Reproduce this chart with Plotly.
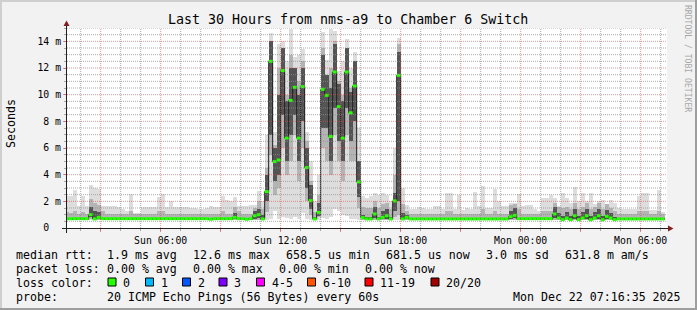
import plotly.graph_objects as go

# ---------------- data (12-minute bins, minutes since Sun 00:00) ----------------
BIN = 12
START = 72
X_RANGE = [79, 1879]

median = [
    0.70, 0.70, 0.70, 0.70, 0.70, 0.70, 1.00, 0.68, 0.80, 0.70, 0.70, 0.70, 0.70, 0.70, 0.70,
    0.70, 0.70, 0.70, 0.70, 0.70, 0.70, 0.70, 0.70, 0.70, 0.70, 0.70, 0.70, 0.70, 0.70, 0.70,
    0.70, 0.70, 0.70, 0.70, 0.70, 0.70, 0.66, 0.70, 0.70, 0.70, 0.70, 0.70, 0.80, 0.70, 0.70,
    0.66, 0.70, 0.92, 1.00, 0.68, 2.73, 12.50, 4.98, 5.10, 11.80, 6.74, 9.57, 10.55, 6.74, 10.60,
    4.53, 2.05, 0.68, 1.17, 10.40, 9.95, 6.86, 11.70, 9.10, 6.74, 11.70, 8.64, 10.65, 3.46, 0.78,
    0.68, 0.68, 1.05, 0.68, 0.80, 0.92, 0.68, 2.03, 11.45, 0.68, 0.80, 0.68, 0.68, 0.68, 0.68,
    0.68, 0.68, 0.68, 0.68, 0.68, 0.68, 0.68, 0.68, 0.68, 0.68, 0.68, 0.68, 0.68, 0.68, 0.68,
    0.68, 0.68, 0.68, 0.68, 0.68, 0.68, 0.85, 0.95, 0.70, 0.70, 0.70, 0.70, 0.70, 0.70, 0.70,
    0.70, 0.70, 1.05, 0.75, 0.62, 0.75, 0.62, 0.92, 0.62, 0.75, 0.92, 0.62, 0.75, 0.92, 0.62,
    0.87, 0.75, 0.62, 0.68, 0.68, 0.68, 0.68, 0.68, 0.68, 0.68, 0.68, 0.68, 0.68, 0.68, 0.68,
]

smoke_max = [
    2.38, 2.38, 2.88, 1.68, 2.38, 1.68, 3.20, 3.00, 2.95, 1.68, 1.68, 1.62, 1.62, 1.55, 1.45,
    1.30, 2.58, 1.10, 1.10, 1.60, 1.55, 1.55, 1.55, 2.33, 2.58, 1.60, 2.00, 1.60, 1.60, 1.55,
    1.55, 1.50, 1.50, 1.45, 1.40, 1.50, 1.68, 1.55, 1.55, 2.38, 2.10, 2.00, 2.30, 1.65, 1.62,
    1.62, 1.70, 1.75, 2.75, 2.00, 7.00, 14.60, 7.20, 13.80, 14.00, 12.50, 14.90, 12.80, 13.00, 13.40,
    7.20, 5.00, 2.00, 4.00, 14.70, 12.60, 14.90, 14.80, 11.80, 12.50, 14.20, 12.00, 13.20, 7.50, 2.40,
    2.25, 2.40, 2.60, 2.50, 2.60, 2.50, 2.00, 6.00, 14.25, 3.00, 1.75, 1.40, 1.40, 1.60, 1.50,
    1.43, 1.43, 1.63, 1.63, 1.43, 2.63, 2.63, 1.43, 2.50, 1.38, 1.50, 1.43, 2.68, 1.68, 3.18,
    1.50, 1.50, 2.95, 2.05, 1.63, 1.68, 1.88, 1.88, 2.58, 1.63, 1.75, 1.75, 1.43, 1.30, 2.25,
    2.25, 2.45, 2.25, 1.68, 2.63, 2.25, 1.88, 3.08, 2.00, 2.63, 2.00, 2.63, 1.83, 2.00, 2.13,
    1.83, 2.08, 1.88, 1.50, 1.43, 1.43, 1.43, 1.43, 2.43, 2.63, 2.63, 1.33, 1.33, 2.83, 1.18,
]

smoke_min = [
    0.60, 0.60, 0.60, 0.60, 0.60, 0.60, 0.60, 0.60, 0.60, 0.60, 0.60, 0.60, 0.60, 0.60, 0.60,
    0.60, 0.60, 0.60, 0.60, 0.60, 0.60, 0.60, 0.60, 0.60, 0.60, 0.60, 0.60, 0.60, 0.60, 0.60,
    0.60, 0.60, 0.60, 0.60, 0.60, 0.60, 0.60, 0.60, 0.60, 0.60, 0.60, 0.60, 0.60, 0.60, 0.60,
    0.60, 0.60, 0.60, 0.60, 0.60, 0.62, 0.65, 1.25, 0.70, 0.80, 0.75, 0.65, 0.80, 0.70, 1.15,
    0.65, 0.62, 0.60, 0.62, 0.75, 0.65, 0.80, 1.40, 1.30, 1.00, 0.90, 0.70, 0.65, 0.62, 0.60,
    0.60, 0.60, 0.60, 0.60, 0.60, 0.60, 0.60, 0.60, 0.62, 0.60, 0.60, 0.60, 0.60, 0.60, 0.60,
    0.60, 0.60, 0.60, 0.60, 0.60, 0.60, 0.60, 0.60, 0.60, 0.60, 0.60, 0.60, 0.60, 0.60, 0.60,
    0.60, 0.60, 0.60, 0.60, 0.60, 0.60, 0.60, 0.60, 0.60, 0.60, 0.60, 0.60, 0.60, 0.60, 0.60,
    0.60, 0.60, 0.60, 0.60, 0.60, 0.60, 0.60, 0.60, 0.60, 0.60, 0.60, 0.60, 0.60, 0.60, 0.60,
    0.60, 0.60, 0.60, 0.60, 0.60, 0.60, 0.60, 0.60, 0.60, 0.60, 0.60, 0.60, 0.60, 0.60, 0.60,
]

mid_lo = [
    0.62, 0.62, 0.62, 0.62, 0.62, 0.62, 0.65, 0.62, 0.62, 0.62, 0.62, 0.62, 0.62, 0.62, 0.62,
    0.62, 0.62, 0.62, 0.62, 0.62, 0.62, 0.62, 0.62, 0.62, 0.62, 0.62, 0.62, 0.62, 0.62, 0.62,
    0.62, 0.62, 0.62, 0.62, 0.62, 0.62, 0.62, 0.62, 0.62, 0.62, 0.62, 0.62, 0.62, 0.62, 0.62,
    0.62, 0.62, 0.62, 0.62, 0.62, 1.20, 5.50, 2.50, 3.00, 6.00, 4.00, 5.00, 7.00, 3.50, 6.00,
    2.00, 1.00, 0.62, 0.80, 6.00, 5.00, 4.00, 7.00, 5.00, 3.50, 7.00, 5.00, 5.00, 1.50, 0.62,
    0.62, 0.62, 0.62, 0.62, 0.62, 0.62, 0.62, 0.80, 1.00, 0.62, 0.62, 0.62, 0.62, 0.62, 0.62,
    0.62, 0.62, 0.62, 0.62, 0.62, 0.62, 0.62, 0.62, 0.62, 0.62, 0.62, 0.62, 0.62, 0.62, 0.62,
    0.62, 0.62, 0.62, 0.62, 0.62, 0.62, 0.62, 0.62, 0.62, 0.62, 0.62, 0.62, 0.62, 0.62, 0.62,
    0.62, 0.62, 0.62, 0.62, 0.62, 0.62, 0.62, 0.62, 0.62, 0.62, 0.62, 0.62, 0.62, 0.62, 0.62,
    0.62, 0.62, 0.62, 0.62, 0.62, 0.62, 0.62, 0.62, 0.62, 0.62, 0.62, 0.62, 0.62, 0.62, 0.62,
]

mid_hi = [
    1.20, 1.10, 1.30, 1.05, 1.20, 1.05, 2.20, 1.90, 1.70, 1.30, 1.05, 1.05, 1.05, 1.05, 1.05,
    1.05, 1.30, 1.05, 1.05, 1.05, 1.05, 1.05, 1.05, 1.30, 1.30, 1.05, 1.05, 1.05, 1.05, 1.05,
    1.05, 1.05, 1.05, 1.05, 1.05, 1.05, 1.05, 1.05, 1.05, 1.30, 1.05, 1.05, 1.60, 1.30, 1.05,
    1.05, 1.05, 1.50, 2.00, 1.40, 4.50, 14.00, 6.20, 12.00, 13.50, 10.00, 13.00, 12.00, 11.00, 12.50,
    6.50, 3.50, 1.20, 2.50, 13.50, 11.50, 12.00, 14.00, 11.00, 10.00, 13.50, 10.50, 12.50, 5.00, 1.60,
    1.50, 1.50, 2.00, 1.50, 1.80, 1.90, 1.40, 4.00, 13.80, 1.80, 1.30, 1.05, 1.05, 1.05, 1.05,
    1.05, 1.05, 1.05, 1.05, 1.05, 1.30, 1.30, 1.05, 1.05, 1.05, 1.05, 1.05, 1.05, 1.05, 1.40,
    1.05, 1.05, 1.30, 1.05, 1.05, 1.05, 1.70, 1.80, 1.40, 1.05, 1.05, 1.05, 1.05, 1.05, 1.30,
    1.30, 1.30, 1.90, 1.60, 1.50, 1.60, 1.40, 1.90, 1.40, 1.60, 1.90, 1.40, 1.60, 1.90, 1.40,
    1.80, 1.50, 1.30, 1.05, 1.05, 1.05, 1.05, 1.05, 1.30, 1.30, 1.30, 1.05, 1.05, 1.30, 1.05,
]

core_lo = [
    0.64, 0.64, 0.64, 0.64, 0.64, 0.64, 0.80, 0.66, 0.70, 0.64, 0.64, 0.64, 0.64, 0.64, 0.64,
    0.64, 0.64, 0.64, 0.64, 0.64, 0.64, 0.64, 0.64, 0.64, 0.64, 0.64, 0.64, 0.64, 0.64, 0.64,
    0.64, 0.64, 0.64, 0.64, 0.64, 0.64, 0.64, 0.64, 0.64, 0.64, 0.64, 0.64, 0.64, 0.64, 0.64,
    0.64, 0.64, 0.70, 0.75, 0.64, 2.00, 7.00, 3.50, 4.00, 8.50, 5.00, 7.00, 8.50, 5.00, 8.00,
    3.00, 1.40, 0.64, 0.90, 7.50, 7.50, 5.00, 9.00, 6.50, 5.00, 9.00, 6.50, 8.00, 2.30, 0.64,
    0.64, 0.64, 0.75, 0.64, 0.64, 0.70, 0.64, 1.30, 2.00, 0.64, 0.64, 0.64, 0.64, 0.64, 0.64,
    0.64, 0.64, 0.64, 0.64, 0.64, 0.64, 0.64, 0.64, 0.64, 0.64, 0.64, 0.64, 0.64, 0.64, 0.64,
    0.64, 0.64, 0.64, 0.64, 0.64, 0.64, 0.70, 0.75, 0.64, 0.64, 0.64, 0.64, 0.64, 0.64, 0.64,
    0.64, 0.64, 0.75, 0.64, 0.64, 0.64, 0.64, 0.64, 0.64, 0.64, 0.64, 0.64, 0.64, 0.64, 0.64,
    0.64, 0.64, 0.64, 0.64, 0.64, 0.64, 0.64, 0.64, 0.64, 0.64, 0.64, 0.64, 0.64, 0.64, 0.64,
]

core_hi = [
    0.78, 0.78, 0.78, 0.78, 0.78, 0.78, 1.55, 1.30, 1.20, 0.78, 0.78, 0.78, 0.78, 0.78, 0.78,
    0.78, 0.78, 0.78, 0.78, 0.78, 0.78, 0.78, 0.78, 0.78, 0.78, 0.78, 0.78, 0.78, 0.78, 0.78,
    0.78, 0.78, 0.78, 0.78, 0.78, 0.78, 0.78, 0.78, 0.78, 0.78, 0.78, 0.78, 1.10, 0.78, 0.78,
    0.78, 0.78, 1.25, 1.45, 0.95, 4.00, 14.00, 6.00, 10.00, 13.50, 9.50, 12.00, 12.00, 10.00, 12.00,
    6.00, 3.20, 0.80, 1.90, 13.00, 11.50, 10.50, 13.80, 10.80, 9.50, 13.50, 10.20, 12.50, 5.00, 1.00,
    0.80, 0.80, 1.60, 0.85, 1.30, 1.40, 0.85, 2.60, 13.20, 1.10, 1.00, 0.78, 0.78, 0.78, 0.78,
    0.78, 0.78, 0.78, 0.78, 0.78, 0.78, 0.78, 0.78, 0.78, 0.78, 0.78, 0.78, 0.78, 0.78, 0.78,
    0.78, 0.78, 0.78, 0.78, 0.78, 0.78, 1.30, 1.50, 0.78, 0.78, 0.78, 0.78, 0.78, 0.78, 0.78,
    0.78, 0.78, 1.55, 1.10, 0.90, 1.20, 0.90, 1.45, 0.90, 1.20, 1.45, 0.90, 1.20, 1.45, 0.90,
    1.35, 1.10, 0.85, 0.78, 0.78, 0.78, 0.78, 0.78, 0.78, 0.78, 0.78, 0.78, 0.78, 0.78, 0.78,
]

x_tickvals = [180, 360, 540, 720, 900, 1080, 1260, 1440, 1620, 1800]
x_ticktext = ["", "Sun 06:00", "", "Sun 12:00", "", "Sun 18:00", "", "Mon 00:00", "", "Mon 06:00"]
y_tickvals = [0, 2, 4, 6, 8, 10, 12, 14]
y_ticktext = ["0\u00a0\u00a0", "2 m", "4 m", "6 m", "8 m", "10 m", "12 m", "14 m"]

loss_labels = ["0", "1", "2", "3", "4-5", "6-10", "11-19", "20/20"]
loss_colors = ["#26ff00", "#00b8ff", "#0059ff", "#7e00ff", "#ff00ff", "#ff5500", "#ff0000", "#a10000"]

title_text = "Last 30 Hours from nms-a9 to Chamber 6 Switch"
stats_rtt = ["1.9 ms avg", "12.6 ms max", "658.5 us min", "681.5 us now", "3.0 ms sd", "631.8 m am/s"]
stats_loss = ["0.00 % avg", "0.00 % max", "0.00 % min", "0.00 % now"]
probe_text = "20 ICMP Echo Pings (56 Bytes) every 60s"
stamp_text = "Mon Dec 22 07:16:35 2025"

# ---------------- figure ----------------
W, H = 697, 310
PL, PT, PW, PH = 67, 28, 600, 200
MONO = "DejaVu Sans Mono"


def px2x(px):
    return (px - PL) / PW


def px2y(py):
    return (PT + PH - py) / PH


n = len(median)
xc = [START + BIN * j + BIN / 2 for j in range(n)]

fig = go.Figure()

for lo, hi, col in [(smoke_min, smoke_max, "#dddddd"),
                    (mid_lo, mid_hi, "#b4b4b4"),
                    (core_lo, core_hi, "#545454")]:
    fig.add_trace(go.Bar(x=xc, base=lo, y=[h - l for l, h in zip(lo, hi)], width=BIN,
                         marker=dict(color=col, line=dict(width=0)), hoverinfo="skip"))

fig.add_trace(go.Scatter(x=xc, y=median, mode="lines",
                         line=dict(color="#202020", width=1, shape="hvh"), hoverinfo="skip"))

gx, gy = [], []
for j, m in enumerate(median):
    gx += [START + BIN * j, START + BIN * (j + 1), None]
    gy += [m, m, None]
fig.add_trace(go.Scatter(x=gx, y=gy, mode="lines", line=dict(color=loss_colors[0], width=3),
                         hoverinfo="skip"))

shapes = []
MINOR = "rgba(143,143,143,0.75)"
MAJOR = "rgba(222,79,79,0.6)"
# grid drawn on top of the smoke, as rrdtool does
for t in range(120, X_RANGE[1], 60):
    shapes.append(dict(type="line", xref="x", yref="paper", x0=t, x1=t, y0=0, y1=1, layer="above",
                       line=dict(color=MAJOR if t % 180 == 0 else MINOR, width=1, dash="1px,1px")))
for k in range(1, 31):
    v = k * 0.5
    shapes.append(dict(type="line", xref="paper", yref="y", x0=0, x1=1, y0=v, y1=v, layer="above",
                       line=dict(color=MAJOR if k % 4 == 0 else MINOR, width=1, dash="1px,1px")))

# axes lines and arrows
AX = "#1f1f1f"
shapes.append(dict(type="line", xref="paper", yref="paper", x0=px2x(62), x1=px2x(669),
                   y0=px2y(228.5), y1=px2y(228.5), line=dict(color=AX, width=1), layer="above"))
shapes.append(dict(type="line", xref="paper", yref="paper", x0=px2x(66.5), x1=px2x(66.5),
                   y0=px2y(233), y1=px2y(25), line=dict(color=AX, width=1), layer="above"))
ARROW = "#801f1f"
shapes.append(dict(type="path", xref="paper", yref="paper", layer="above",
                   path="M %f %f L %f %f L %f %f Z" % (px2x(63.5), px2y(26), px2x(69.5), px2y(26),
                                                       px2x(66.5), px2y(20.5)),
                   fillcolor=ARROW, line=dict(width=0)))
shapes.append(dict(type="path", xref="paper", yref="paper", layer="above",
                   path="M %f %f L %f %f L %f %f Z" % (px2x(668), px2y(225.5), px2x(668), px2y(231.5),
                                                       px2x(673.5), px2y(228.5)),
                   fillcolor=ARROW, line=dict(width=0)))

# 3D frame of the image
shapes.append(dict(type="rect", xref="paper", yref="paper", x0=px2x(0), x1=px2x(2), y0=px2y(310),
                   y1=px2y(0), fillcolor="#cfcfcf", line=dict(width=0), layer="above"))
shapes.append(dict(type="rect", xref="paper", yref="paper", x0=px2x(0), x1=px2x(697), y0=px2y(2),
                   y1=px2y(0), fillcolor="#cfcfcf", line=dict(width=0), layer="above"))
shapes.append(dict(type="rect", xref="paper", yref="paper", x0=px2x(695), x1=px2x(697), y0=px2y(310),
                   y1=px2y(0), fillcolor="#9e9e9e", line=dict(width=0), layer="above"))
shapes.append(dict(type="rect", xref="paper", yref="paper", x0=px2x(0), x1=px2x(697), y0=px2y(310),
                   y1=px2y(308), fillcolor="#9e9e9e", line=dict(width=0), layer="above"))

# loss colour swatches
swatch_x = [108, 145.5, 182.5, 219, 256.5, 307.5, 365, 431]
for sx, col in zip(swatch_x, loss_colors):
    shapes.append(dict(type="rect", xref="paper", yref="paper", x0=px2x(sx), x1=px2x(sx + 8),
                       y0=px2y(286), y1=px2y(278), fillcolor=col,
                       line=dict(color="#000000", width=1), layer="above"))

annotations = []


def text(px, py, s, size=11.6, anchor="left", color="#000000", angle=0):
    annotations.append(dict(x=px2x(px), y=px2y(py), xref="paper", yref="paper", text=s,
                            showarrow=False, xanchor=anchor, yanchor="middle", textangle=angle,
                            font=dict(family=MONO, size=size, color=color),
                            borderpad=0, borderwidth=0))


text(347.5, 19, title_text, size=13.3, anchor="center")
text(11, 124, "Seconds", size=11.6, anchor="center", angle=-90)
text(688, 58, "RRDTOOL / TOBI OETIKER", size=8.1, anchor="center", color="#a8a8a8", angle=90)

text(16, 254.5, "median rtt:")
for sx, s in zip([107.3, 193.3, 286, 386, 486.3, 565], stats_rtt):
    text(sx, 254.5, s)
text(16, 268.5, "packet loss:")
for sx, s in zip([107.3, 193.3, 279.3, 365], stats_loss):
    text(sx, 268.5, s)
text(16, 282.5, "loss color:")
for sx, s in zip(swatch_x, loss_labels):
    text(sx + 15, 282.5, s)
text(16, 296.5, "probe:")
text(107.3, 296.5, probe_text)
text(513.3, 296.5, stamp_text)

fig.update_layout(
    width=W, height=H,
    margin=dict(l=PL, r=W - PL - PW, t=PT, b=H - PT - PH, pad=0),
    paper_bgcolor="#f2f2f2", plot_bgcolor="#ffffff",
    barmode="overlay", bargap=0, showlegend=False, hovermode=False,
    font=dict(family=MONO, color="#000000"),
    shapes=shapes, annotations=annotations,
    xaxis=dict(range=X_RANGE, tickmode="array", tickvals=x_tickvals, ticktext=x_ticktext,
               showgrid=False, zeroline=False, showline=False,
               ticks="outside", ticklen=3, tickcolor=MAJOR, tickwidth=1,
               tickfont=dict(family=MONO, size=9.8, color="#000000"),
               minor=dict(dtick=60, tick0=0, ticks="outside", ticklen=2, tickcolor=MINOR, showgrid=False),
               fixedrange=True),
    yaxis=dict(range=[0, 15], tickmode="array", tickvals=y_tickvals, ticktext=y_ticktext,
               showgrid=False, zeroline=False, showline=False,
               ticks="outside", ticklen=3, tickcolor=MAJOR, tickwidth=1,
               tickfont=dict(family=MONO, size=9.8, color="#000000"),
               minor=dict(dtick=0.5, tick0=0, ticks="outside", ticklen=2, tickcolor=MINOR, showgrid=False),
               fixedrange=True),
)

fig.write_html("out.html")
